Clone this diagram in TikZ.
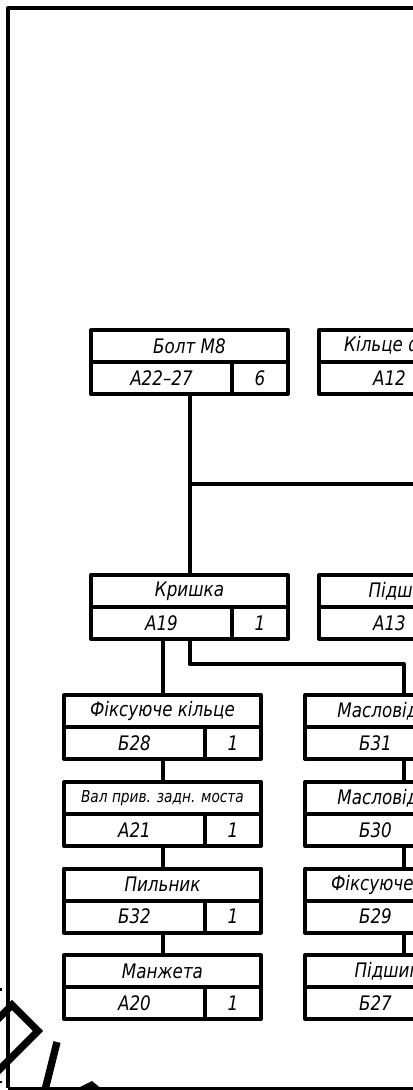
\documentclass[tikz,border=0pt]{standalone}
\usepackage{fontspec}
\setmainfont{DejaVu Sans Condensed}[ItalicFont={DejaVu Sans Condensed Oblique}, FakeStretch=0.93]
\usetikzlibrary{calc}

\tikzset{
  card/.style={draw, line width=3pt, line join=round, minimum width=147.75pt,
    minimum height=48pt, inner sep=0pt, outer sep=0pt},
  cardline/.style={line width=3pt},
  cardtext/.style={inner sep=0pt, font=\fontsize{15}{15}\selectfont\itshape},
  link/.style={line width=3pt, line join=round},
  stroke/.style={line width=5.5pt}
}

% card: name, position, title, code, qty
\newcommand{\partcard}[6][]{%
  \node[card] (#2) at (#3) {};
  \draw[cardline] (#2.west) -- (#2.east);
  \draw[cardline] ($(#2.west)+(141,0)$) -- ($(#2.south west)+(141,0)$);
  \node[cardtext,#1] at ($(#2.north)+(0,16)$) {#4};
  \node[cardtext] at ($(#2.west)+(70.5,16)$) {#5};
  \node[cardtext] at ($(#2.west)+(169,16)$) {#6};
}

\begin{document}
\begin{tikzpicture}[x=0.75pt, y=-0.75pt]
    \useasboundingbox (0,0) rectangle (413,1090);
    \clip (0,0) rectangle (413,1090);
    % frame
    \draw[line width=3pt, line join=round] (8,1088) -- (8,8) -- (700,8);
    \draw[line width=3pt] (8,1088.5) -- (700,1088.5);
    % upper level
    \partcard{bolt}{189.5,362}{Болт М8}{А22–27}{6}
    \partcard{ringA}{417.5,362}{Кільце фіксуюче}{А12}{1}
    \partcard{cover}{189.5,607}{Кришка}{А19}{1}
    \partcard{bearA}{417.5,607}{Підшипник}{А13}{1}
    % left column
    \partcard{fixA}{162.5,727}{Фіксуюче кільце}{Б28}{1}
    \partcard[font=\fontsize{12.3}{12.3}\selectfont\itshape]{shaft}{162.5,814}{Вал прив. задн. моста}{А21}{1}
    \partcard{dust}{162.5,900.5}{Пильник}{Б32}{1}
    \partcard{cuff}{162.5,987}{Манжета}{А20}{1}
    % right column
    \partcard{oilA}{403.5,727}{Масловідбивач}{Б31}{1}
    \partcard{oilB}{403.5,814}{Масловідбивач}{Б30}{1}
    \partcard{fixB}{403.5,900.5}{Фіксуюче кільце}{Б29}{1}
    \partcard{brgB}{403.5,987}{Підшипник}{Б27}{1}
    % connectors
    \coordinate (busE) at (430,484);
    \draw[link] (bolt.south) -- (cover.north);
    \draw[link] (bolt.south |- busE) -- (busE);
    \draw[link] (cover.south -| fixA.north) -- (fixA.north);
    \draw[link] (cover.south) |- ($(oilA.north)+(0,-31)$) -- (oilA.north);
    \draw[link] (fixA.south) -- (shaft.north);
    \draw[link] (shaft.south) -- (dust.north);
    \draw[link] (dust.south) -- (cuff.north);
    \draw[link] (oilA.south) -- (oilB.north);
    \draw[link] (oilB.south) -- (fixB.north);
    \draw[link] (fixB.south) -- (brgB.north);
    % strokes of the stamp below
    \draw[stroke, line join=miter] (-5,1022) -- (12,1005) -- (38,1031) -- (-5,1074);
    \draw[stroke] (57,1042) -- (44,1094);
    \fill (74,1090) -- (92,1081) -- (103,1090) -- cycle;
    \fill (0,988) rectangle (2,991);
    \fill (0,1081) rectangle (2,1083);
\end{tikzpicture}
\end{document}
